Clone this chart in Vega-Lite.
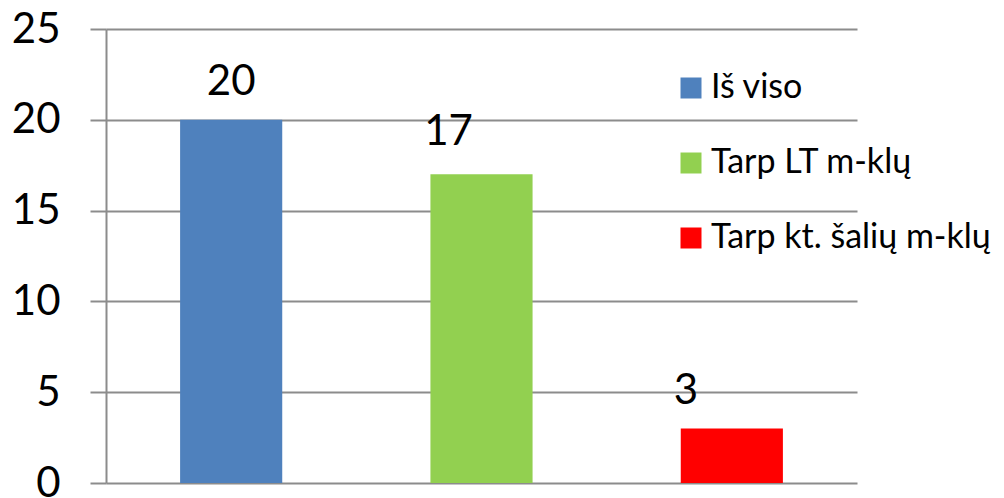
{
  "$schema": "https://vega.github.io/schema/vega-lite/v6.json",
  "autosize": "none",
  "width": 751,
  "height": 454,
  "padding": {"left": 106, "top": 29, "right": 147, "bottom": 15},
  "background": "white",
  "data": {"values": [
    {"category": "Iš viso", "value": 20},
    {"category": "Tarp LT m-klų", "value": 17},
    {"category": "Tarp kt. šalių m-klų", "value": 3}
  ]},
  "config": {
    "font": "Lato",
    "view": {"stroke": null}
  },
  "encoding": {
    "x": {
      "field": "category", "type": "nominal", "sort": null,
      "scale": {"paddingInner": 0.592, "paddingOuter": 0.296},
      "axis": null
    },
    "y": {
      "field": "value", "type": "quantitative",
      "scale": {"domain": [0, 25], "nice": false},
      "axis": {
        "title": null, "values": [0, 5, 10, 15, 20, 25],
        "labelFont": "Lato", "labelFontSize": 42, "labelColor": "#000000",
        "labelPadding": 30, "labelBaseline": "middle",
        "tickSize": 16, "tickColor": "#8c8c8c", "tickWidth": 2,
        "domainColor": "#8c8c8c", "domainWidth": 2,
        "gridColor": "#8c8c8c", "gridWidth": 2, "gridOpacity": 1,
        "grid": true
      }
    }
  },
  "layer": [
    {
      "mark": {"type": "bar"},
      "encoding": {
        "color": {
          "field": "category", "type": "nominal", "sort": null,
          "scale": {"domain": ["Iš viso", "Tarp LT m-klų", "Tarp kt. šalių m-klų"], "range": ["#4F81BD", "#92D050", "#FF0000"]},
          "legend": {
            "title": null, "orient": "none", "legendX": 568, "legendY": 42, "padding": 0,
            "symbolType": "square", "symbolSize": 441, "symbolStrokeWidth": 0, "symbolOpacity": 1,
            "labelFont": "Lato", "labelFontSize": 34, "labelColor": "#000000",
            "labelOffset": 3, "rowPadding": 41, "labelLimit": 0
          }
        }
      }
    },
    {
      "transform": [{"filter": "datum.value == 20"}],
      "mark": {"type": "text", "baseline": "alphabetic", "dy": -25, "font": "Lato", "fontSize": 42, "color": "#000000"},
      "encoding": {"text": {"field": "value", "type": "quantitative"}}
    },
    {
      "transform": [{"filter": "datum.value == 17"}],
      "mark": {"type": "text", "baseline": "alphabetic", "dy": -29, "dx": -33, "font": "Lato", "fontSize": 42, "color": "#000000"},
      "encoding": {"text": {"field": "value", "type": "quantitative"}}
    },
    {
      "transform": [{"filter": "datum.value == 3"}],
      "mark": {"type": "text", "baseline": "alphabetic", "dy": -25, "dx": -46, "font": "Lato", "fontSize": 42, "color": "#000000"},
      "encoding": {"text": {"field": "value", "type": "quantitative"}}
    }
  ]
}
